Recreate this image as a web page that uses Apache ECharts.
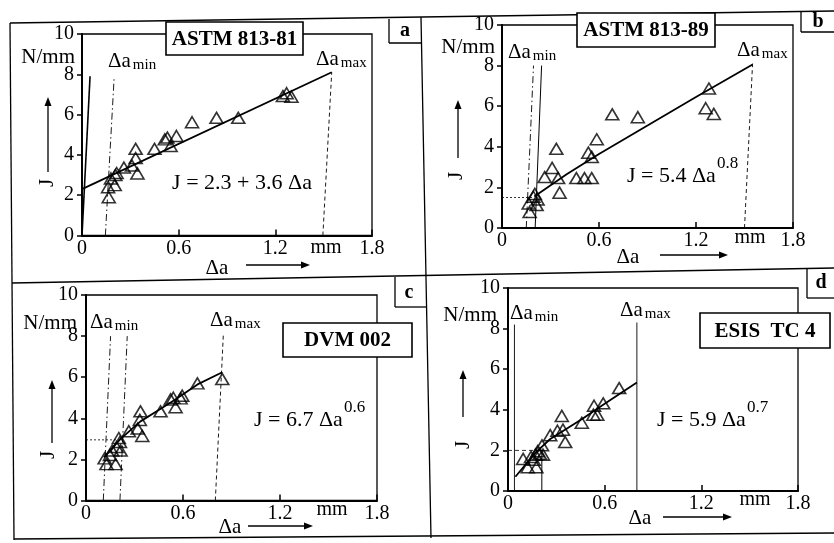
<!DOCTYPE html>
<html>
<head>
<meta charset="utf-8">
<script src="https://cdn.jsdelivr.net/npm/echarts@6/dist/echarts.min.js"></script>
<style>
  html, body { margin: 0; background: #fff; }
  #chart { width: 834px; height: 543px; }
</style>
</head>
<body>
<div id="chart"></div>
<script>
  // --- data (x = delta a in mm, y = J in N/mm) ---
  // a: ASTM 813-81
  const ptsA = [[0.166,1.9],[0.162,2.4],[0.203,2.5],[0.18,2.83],[0.207,3.0],[0.215,3.1],[0.26,3.37],
    [0.31,3.47],[0.333,3.84],[0.333,4.3],[0.344,3.08],[0.45,4.3],[0.514,4.77],[0.53,4.86],[0.55,4.44],
    [0.586,4.94],[0.683,5.62],[0.835,5.84],[0.97,5.84],[1.247,6.92],[1.30,6.89],[1.27,7.06]];
  const fitA = [[0,2.3],[1.55,8.1]];
  const bluntA = [[0,0],[0.05,7.9]];
  const minA = [[0.145,0],[0.2,7.9]];
  const maxA = [[1.495,0],[1.55,8.1]];

  // b: ASTM 813-89
  const ptsB = [[0.171,0.79],[0.165,1.21],[0.194,1.54],[0.214,1.13],[0.203,1.68],[0.22,1.4],[0.264,2.51],
    [0.31,2.96],[0.336,3.9],[0.347,2.46],[0.356,1.74],[0.46,2.46],[0.51,2.46],[0.555,2.46],[0.534,3.71],
    [0.555,3.5],[0.586,4.37],[0.682,5.6],[0.84,5.46],[1.28,6.87],[1.26,5.9],[1.31,5.62]];
  const fitB = [[0.2,1.55],[0.4,2.65],[0.6,3.65],[0.9,5.05],[1.2,6.45],[1.55,8.05]];
  const minB1 = [[0.15,0],[0.195,8.0]];
  const minB2 = [[0.205,0],[0.245,8.0]];
  const maxB = [[1.50,0],[1.55,8.1]];
  const levB = [[0,1.5],[0.2,1.5]];

  // c: DVM 002
  const ptsC = [[0.115,2.05],[0.127,1.77],[0.148,2.21],[0.162,2.43],[0.183,1.77],[0.189,2.6],[0.21,2.85],
    [0.214,2.43],[0.203,3.04],[0.265,3.37],[0.32,3.5],[0.337,4.34],[0.333,3.92],[0.348,3.14],[0.461,4.34],
    [0.523,4.92],[0.54,5.0],[0.554,4.54],[0.585,4.97],[0.595,5.1],[0.689,5.7],[0.843,5.91]];
  const fitC = [[0.11,2.1],[0.214,3.0],[0.337,3.85],[0.46,4.45],[0.55,4.9],[0.69,5.65],[0.843,6.24]];
  const minC1 = [[0.107,0],[0.152,8.0]];
  const minC2 = [[0.21,0],[0.255,8.0]];
  const maxC = [[0.8,0],[0.85,8.15]];
  const levC = [[0,2.95],[0.2,2.95]];

  // d: ESIS TC 4
  const ptsD = [[0.094,1.58],[0.122,1.17],[0.143,1.68],[0.16,1.54],[0.176,1.17],[0.17,1.79],[0.184,1.96],
    [0.197,1.84],[0.217,1.79],[0.211,2.25],[0.262,2.75],[0.307,2.97],[0.334,3.7],[0.341,3.02],[0.355,2.41],
    [0.458,3.36],[0.53,3.76],[0.554,3.76],[0.534,4.2],[0.591,4.32],[0.69,5.07]];
  const fitD = [[0.046,0.7],[0.16,1.8],[0.26,2.55],[0.46,3.55],[0.6,4.3],[0.8,5.35]];
  const minD = [[0.04,0],[0.04,8.2]];
  const stopD = [[0.21,0],[0.21,2.0]];
  const levD = [[0,2.0],[0.21,2.0]];
  const maxD = [[0.8,0],[0.8,8.3]];

  const FONT = '"Liberation Serif","DejaVu Serif",serif';

  // plot boxes in pixels
  const boxes = [
    { left: 82, top: 34, width: 290, height: 201.5 },
    { left: 502, top: 25, width: 291, height: 203 },
    { left: 86, top: 295, width: 291, height: 205.5 },
    { left: 508, top: 288, width: 290, height: 203 }
  ];

  const dashDot = [7, 3, 1.5, 3];
  const dashed = [4, 3];
  const dotted = [2, 2];

  // text width, to put sub/superscripts right after their base text
  const ctx = document.createElement('canvas').getContext('2d');
  function textW(s, size, bold) {
    ctx.font = (bold ? 'bold ' : '') + size + 'px ' + FONT;
    return ctx.measureText(s).width;
  }

  function tri(i, data) {
    return {
      type: 'scatter', xAxisIndex: i, yAxisIndex: i, data: data,
      symbol: 'triangle', symbolSize: [13, 11],
      itemStyle: { color: 'rgba(0,0,0,0)', borderColor: '#000', borderWidth: 1.6 },
      z: 4
    };
  }
  function curve(i, data, width, type) {
    return {
      type: 'line', xAxisIndex: i, yAxisIndex: i, data: data, showSymbol: false,
      lineStyle: { color: '#000', width: width, type: type || 'solid' },
      z: 3
    };
  }

  function txt(x, y, s, size, o) {
    o = o || {};
    return {
      type: 'text', x: x, y: y, z: 100, rotation: o.rot || 0,
      style: {
        text: s, fontSize: size, fontFamily: FONT, fontWeight: o.bold ? 'bold' : 'normal',
        fill: '#000', align: o.align || 'left', verticalAlign: 'middle'
      }
    };
  }
  function ln(x1, y1, x2, y2, w) {
    return { type: 'line', z: 90, shape: { x1: x1, y1: y1, x2: x2, y2: y2 },
      style: { stroke: '#000', lineWidth: w || 1.3 } };
  }
  function arrow(x1, y1, x2, y2) {
    const dx = x2 - x1, dy = y2 - y1, L = Math.sqrt(dx * dx + dy * dy);
    const ux = dx / L, uy = dy / L, h = 9, w = 3.5;
    return [
      ln(x1, y1, x2 - ux * 4, y2 - uy * 4, 1.3),
      { type: 'polygon', z: 90, shape: { points: [[x2, y2],
        [x2 - ux * h - uy * w, y2 - uy * h + ux * w],
        [x2 - ux * h + uy * w, y2 - uy * h - ux * w]] },
        style: { fill: '#000' } }
    ];
  }
  function nameBox(x, y, w, h, s) {
    return [
      { type: 'rect', z: 95, shape: { x: x, y: y, width: w, height: h },
        style: { fill: '#fff', stroke: '#000', lineWidth: 1.6 } },
      txt(x + w / 2, y + h / 2 + 1, s, 21, { bold: true, align: 'center' })
    ];
  }
  function delta(x, y, sub) {
    return [txt(x, y, 'Δa', 21), txt(x + textW('Δa', 21) + 2, y + 4, sub, 15)];
  }
  function eq(x, y, s, sup) {
    return [txt(x, y, s, 22), txt(x + textW(s, 22) + 1, y - 12, sup, 17)];
  }

  let grid = [], xAxis = [], yAxis = [];
  boxes.forEach(function (b, i) {
    grid.push(Object.assign({ show: true, borderColor: '#000', borderWidth: 1.3 }, b));
    xAxis.push({
      gridIndex: i, type: 'value', min: 0, max: 1.8, interval: 0.6,
      axisLine: { onZero: false, lineStyle: { color: '#000', width: 2 } },
      axisTick: { inside: true, length: 6, lineStyle: { color: '#000', width: 1.5 } },
      axisLabel: { color: '#000', fontSize: 20, fontFamily: FONT, margin: 3 },
      splitLine: { show: false }
    });
    yAxis.push({
      gridIndex: i, type: 'value', min: 0, max: 10, interval: 2,
      axisLine: { onZero: false, lineStyle: { color: '#000', width: 2 } },
      axisTick: { length: 5, lineStyle: { color: '#000', width: 1.5 } },
      axisLabel: { color: '#000', fontSize: 20, fontFamily: FONT, margin: 8 },
      splitLine: { show: false }
    });
  });

  const series = [
    curve(0, bluntA, 1.6), curve(0, minA, 0.9, dashDot), curve(0, maxA, 0.9, dashed),
    curve(0, fitA, 1.8), tri(0, ptsA),
    curve(1, minB1, 0.9, dashDot), curve(1, minB2, 1.0), curve(1, maxB, 0.9, dashed),
    curve(1, levB, 0.8, dotted), curve(1, fitB, 1.8), tri(1, ptsB),
    curve(2, minC1, 0.9, dashDot), curve(2, minC2, 0.9, dashDot), curve(2, maxC, 0.9, dashed),
    curve(2, levC, 0.8, dotted), curve(2, fitC, 1.8), tri(2, ptsC),
    curve(3, minD, 0.9), curve(3, stopD, 1.0), curve(3, levD, 0.8, dashed),
    curve(3, maxD, 0.9), curve(3, fitD, 1.8), tri(3, ptsD)
  ];

  const g = [].concat(
    // outer frame of the figure
    ln(10, 23, 834, 11), ln(10, 23, 14, 540), ln(421, 17, 431, 538),
    ln(12, 283, 834, 268), ln(14, 539, 834, 533),
    // letter boxes
    ln(389, 19, 389, 43), ln(389, 43, 421.5, 43), txt(405, 31, 'a', 20, { bold: true, align: 'center' }),
    ln(801, 12, 801, 32), ln(801, 32, 834, 32), txt(818, 22, 'b', 20, { bold: true, align: 'center' }),
    ln(395, 277, 395, 307), ln(395, 307, 426.5, 307), txt(409, 293, 'c', 20, { bold: true, align: 'center' }),
    ln(807, 269, 807, 298), ln(807, 298, 834, 298), txt(821, 283, 'd', 20, { bold: true, align: 'center' }),

    // panel a
    nameBox(166, 22, 137, 33, 'ASTM 813-81'),
    txt(75, 57, 'N/mm', 21, { align: 'right' }),
    txt(47, 183, 'J', 21, { align: 'center', rot: Math.PI / 2 }),
    arrow(48, 172, 48, 97),
    txt(217, 268, 'Δa', 21, { align: 'center' }), arrow(246, 265, 310, 265),
    txt(326, 248, 'mm', 20, { align: 'center' }),
    delta(108, 61, 'min'), delta(316, 59, 'max'),
    txt(242, 183, 'J = 2.3 + 3.6 Δa', 22, { align: 'center' }),

    // panel b
    nameBox(577, 13, 138, 34, 'ASTM 813-89'),
    txt(495, 47, 'N/mm', 21, { align: 'right' }),
    txt(456, 176, 'J', 21, { align: 'center', rot: Math.PI / 2 }),
    arrow(458, 158, 458, 100),
    txt(628, 257, 'Δa', 21, { align: 'center' }), arrow(660, 255, 728, 255),
    txt(750, 238, 'mm', 20, { align: 'center' }),
    delta(508, 52, 'min'), delta(737, 50, 'max'),
    eq(627, 176, 'J = 5.4 Δa', '0.8'),

    // panel c
    nameBox(283, 323, 129, 34, 'DVM 002'),
    txt(77, 323, 'N/mm', 21, { align: 'right' }),
    txt(48, 455, 'J', 21, { align: 'center', rot: Math.PI / 2 }),
    arrow(52, 443, 52, 380),
    txt(230, 527, 'Δa', 21, { align: 'center' }), arrow(248, 526, 313, 526),
    txt(332, 510, 'mm', 20, { align: 'center' }),
    delta(90, 322, 'min'), delta(210, 320, 'max'),
    eq(254, 420, 'J = 6.7 Δa', '0.6'),

    // panel d
    nameBox(700, 313, 130, 35, 'ESIS  TC 4'),
    txt(497, 315, 'N/mm', 21, { align: 'right' }),
    txt(463, 445, 'J', 21, { align: 'center', rot: Math.PI / 2 }),
    arrow(463, 417, 463, 370),
    txt(640, 518, 'Δa', 21, { align: 'center' }), arrow(663, 517, 732, 517),
    txt(755, 500, 'mm', 20, { align: 'center' }),
    delta(510, 313, 'min'), delta(620, 310, 'max'),
    eq(657, 420, 'J = 5.9 Δa', '0.7')
  );

  const chart = echarts.init(document.getElementById('chart'));
  chart.setOption({
    backgroundColor: '#fff',
    animation: false,
    grid: grid,
    xAxis: xAxis,
    yAxis: yAxis,
    series: series,
    graphic: { elements: g }
  });
</script>
</body>
</html>
